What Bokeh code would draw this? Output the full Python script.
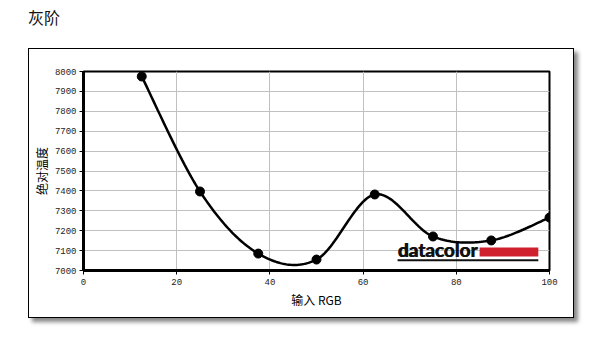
import numpy as np
from bokeh.plotting import figure
from bokeh.models import Div, FixedTicker, Range1d
from bokeh.layouts import column
from bokeh.core.properties import value
from bokeh.embed import file_html
from bokeh.resources import INLINE

title_text = "灰阶"
x_label = "输入 RGB"
y_label = "绝对温度"
x_vals = [12.5, 25, 37.5, 50, 62.5, 75, 87.5, 100]
y_vals = [7975, 7397, 7085, 7055, 7382, 7171, 7151, 7266]
x_ticks = [0, 20, 40, 60, 80, 100]
y_ticks = list(range(7000, 8001, 100))

# Catmull-Rom smoothing for drawing the line through the points
def catmull_rom(xs, ys, n=30):
    xs = np.asarray(xs, float); ys = np.asarray(ys, float)
    px = np.concatenate([[xs[0]], xs, [xs[-1]]])
    py = np.concatenate([[ys[0]], ys, [ys[-1]]])
    ox, oy = [], []
    t = np.linspace(0, 1, n)
    h00 = 2*t**3 - 3*t**2 + 1; h10 = t**3 - 2*t**2 + t
    h01 = -2*t**3 + 3*t**2; h11 = t**3 - t**2
    for i in range(1, len(px) - 2):
        mx0 = (px[i+1] - px[i-1]) / 2; my0 = (py[i+1] - py[i-1]) / 2
        mx1 = (px[i+2] - px[i]) / 2; my1 = (py[i+2] - py[i]) / 2
        ox.extend(h00*px[i] + h10*mx0 + h01*px[i+1] + h11*mx1)
        oy.extend(h00*py[i] + h10*my0 + h01*py[i+1] + h11*my1)
    return ox, oy

sx, sy = catmull_rom(x_vals, y_vals)

p = figure(width=546, height=270, output_backend="svg", toolbar_location=None,
           x_range=Range1d(0, 100), y_range=Range1d(7000, 8000),
           min_border_left=54, min_border_right=26, min_border_top=22, min_border_bottom=49,
           background_fill_color="white", border_fill_color="white",
           margin=(0, 0, 0, 28),
           styles={"border": "1px solid #000", "box-shadow": "4px 4px 4px #888"})
p.outline_line_color = "black"
p.outline_line_width = 2

for ax in (p.xaxis, p.yaxis):
    ax.axis_line_width = 3
    ax.axis_line_color = "black"
    ax.major_tick_line_color = "black"
    ax.major_tick_out = 4
    ax.major_tick_in = 0
    ax.minor_tick_line_color = None
    ax.major_label_text_font = "Liberation Mono"
    ax.major_label_text_font_size = "9px"
    ax.major_label_text_color = "#222"
    ax.axis_label_text_font = "Noto Sans CJK SC"
    ax.axis_label_text_font_size = "12px"
    ax.axis_label_text_font_style = "normal"
    ax.axis_label_text_color = "black"
p.xaxis.ticker = FixedTicker(ticks=x_ticks)
p.yaxis.ticker = FixedTicker(ticks=y_ticks)
p.xaxis.axis_label = x_label
p.yaxis.axis_label = y_label
p.xaxis.major_label_standoff = 4
p.yaxis.major_label_standoff = 3
p.xaxis.axis_label_standoff = 3
p.yaxis.axis_label_standoff = 2
p.xgrid.ticker = FixedTicker(ticks=x_ticks)
p.ygrid.ticker = FixedTicker(ticks=y_ticks)
p.grid.grid_line_color = "#c0c0c0"
p.grid.grid_line_width = 1

# datacolor logo
logo_x0, logo_text_end, logo_x1 = 67.4, 85.0, 97.6
for dx in (0, 0.8):
    p.text(x=[logo_x0], y=[7050], text=["datacolor"], text_font=value("Lato"),
           text_font_style="bold", text_font_size="19px", text_color="#111",
           text_baseline="bottom", x_offset=dx)
p.quad(left=[logo_text_end], right=[logo_x1], bottom=[7070], top=[7116],
       fill_color="#d0202e", line_color=None)
p.segment(x0=[logo_x0], x1=[logo_x1], y0=[7052], y1=[7052], line_color="#111", line_width=2)

p.line(sx, sy, line_color="black", line_width=2.5)
p.scatter(x_vals, y_vals, size=9, fill_color="black", line_color="black")

title = Div(text=title_text, width=200, height=42, margin=(6, 0, 0, 28),
            styles={"font-size": "16px", "font-family": "Noto Sans CJK SC", "color": "#111"})

layout = column(title, p)
open("out.html", "w").write(file_html(layout, INLINE))
